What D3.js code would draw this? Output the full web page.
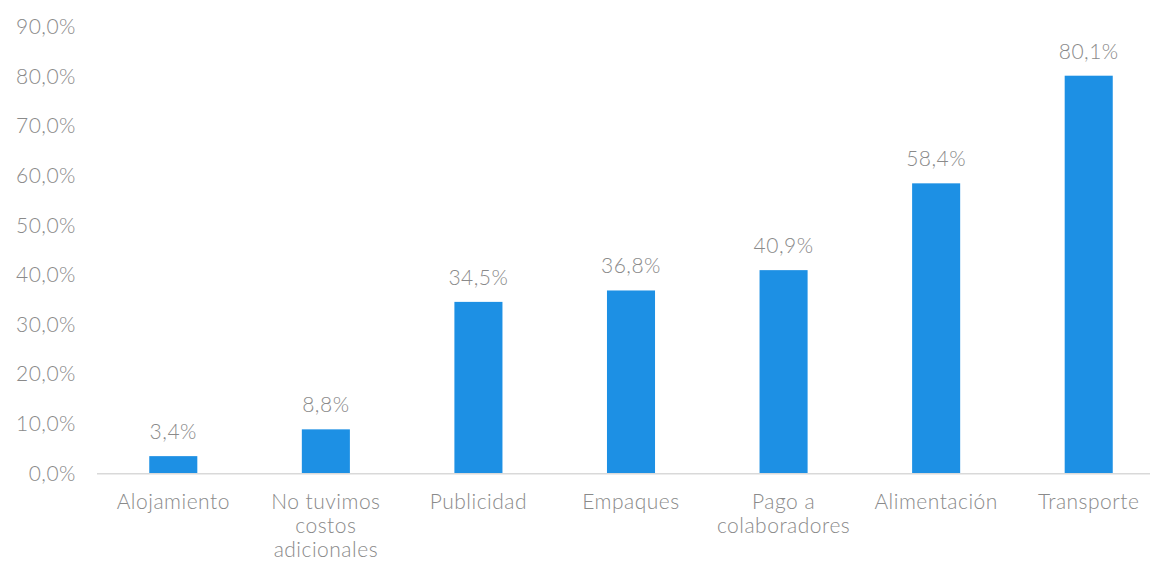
<!DOCTYPE html>
<html>
<head>
<meta charset="utf-8">
<script src="https://cdn.jsdelivr.net/npm/d3@7/dist/d3.min.js"></script>
<style>
  html, body { margin: 0; padding: 0; background: #fff; }
  svg text { font-family: Lato, "Open Sans", sans-serif; font-weight: 300; fill: #8a8a8a; letter-spacing: 0.5px; }
</style>
</head>
<body>
<svg id="chart" width="1150" height="562"></svg>
<script>
// Costs incurred, share of respondents (%)
const categories = [
  ["Alojamiento"],
  ["No tuvimos", "costos", "adicionales"],
  ["Publicidad"],
  ["Empaques"],
  ["Pago a", "colaboradores"],
  ["Alimentación"],
  ["Transporte"]
];
const values = [3.4, 8.8, 34.5, 36.8, 40.9, 58.4, 80.1];
const yTicks = [0, 10, 20, 30, 40, 50, 60, 70, 80, 90];

const svg = d3.select("#chart");
const fmt = v => v.toFixed(1).replace(".", ",") + "%";
const FS = 21;

const x = d3.scaleBand()
  .domain(d3.range(values.length))
  .range([97, 1165])
  .paddingInner(0.685)
  .paddingOuter(0.3425);

const y = d3.scaleLinear().domain([0, 90]).range([473, 26.6]);

// y tick labels
const yAxis = d3.axisLeft(y).tickValues(yTicks).tickFormat(fmt).tickSize(0).tickPadding(0);
const gy = svg.append("g").attr("transform", "translate(76,0)").call(yAxis);
gy.select(".domain").remove();
gy.selectAll("text").attr("font-size", FS).attr("dy", "0.34em")
  .style("font-family", "Lato, sans-serif").style("font-weight", 300)
  .style("letter-spacing", "0.5px").attr("fill", "#8a8a8a");

// bars
svg.append("g").selectAll("rect").data(values).join("rect")
  .attr("x", (d, i) => x(i))
  .attr("width", x.bandwidth())
  .attr("y", d => y(d))
  .attr("height", d => y(0) - y(d))
  .attr("fill", "#1d90e4");

// baseline
svg.append("line")
  .attr("x1", 97).attr("x2", 1150)
  .attr("y1", y(0) + 0.75).attr("y2", y(0) + 0.75)
  .attr("stroke", "#d9d9d9").attr("stroke-width", 1.5);

// value labels
svg.append("g").selectAll("text").data(values).join("text")
  .attr("x", (d, i) => x(i) + x.bandwidth() / 2)
  .attr("y", d => y(d) - 17)
  .attr("text-anchor", "middle")
  .attr("font-size", FS)
  .text(d => fmt(d));

// category labels
const cat = svg.append("g").selectAll("text").data(categories).join("text")
  .attr("x", (d, i) => x(i) + x.bandwidth() / 2)
  .attr("y", 509)
  .attr("text-anchor", "middle")
  .attr("font-size", FS);
cat.selectAll("tspan").data(d => d).join("tspan")
  .attr("x", function() { return d3.select(this.parentNode).attr("x"); })
  .attr("dy", (d, i) => i === 0 ? 0 : 24)
  .text(d => d);
</script>
</body>
</html>
